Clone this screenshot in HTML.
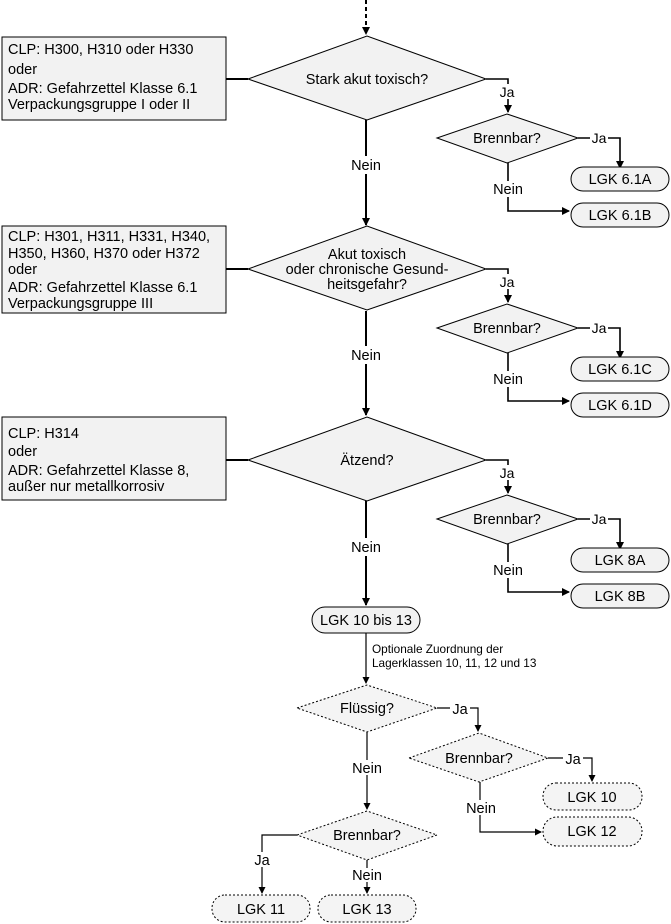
<!DOCTYPE html>
<html><head><meta charset="utf-8"><style>body{margin:0;background:#fff}svg{display:block}text{font-family:"Liberation Sans",Arial,sans-serif;font-size:14.5px;fill:#000}</style></head><body>
<svg width="671" height="924" viewBox="0 0 671 924" xmlns="http://www.w3.org/2000/svg">
<defs>
<marker id="a" markerWidth="8" markerHeight="8" refX="7" refY="4" orient="auto" markerUnits="userSpaceOnUse"><path d="M0,0 L8,4 L0,8 Z" fill="#000"/></marker>
<marker id="b" markerWidth="7" markerHeight="7" refX="6" refY="3.5" orient="auto" markerUnits="userSpaceOnUse"><path d="M0,0 L7,3.5 L0,7 Z" fill="#000"/></marker>
</defs>
<g stroke="#000" fill="none" stroke-width="2">
<line x1="366" y1="0" x2="366" y2="34" stroke-dasharray="4,3" marker-end="url(#a)"/>
</g>
<g id="s1">
<g stroke="#000" stroke-width="1.6" fill="none">
<line x1="226" y1="79" x2="248" y2="79" stroke-width="2"/>
<path d="M486,79 H508 V112" marker-end="url(#a)"/>
<path d="M578,138 H620 V168" marker-end="url(#a)"/>
<path d="M508,163 V211 H569" marker-end="url(#a)"/>
</g>
<polygon points="248,79 367,36 486,79 367,120" fill="#f2f2f2" stroke="#000" stroke-width="1"/>
<polygon points="437,138 507,114 578,138 507,163" fill="#f2f2f2" stroke="#000" stroke-width="1"/>
<rect x="571" y="167" width="98" height="24" rx="12" fill="#f2f2f2" stroke="#000"/>
<rect x="571" y="203" width="98" height="24" rx="12" fill="#f2f2f2" stroke="#000"/>
<rect x="499" y="84" width="18" height="15" fill="#fff"/>
<text x="507" y="97" text-anchor="middle" style="font-size:14px">Ja</text>
<text x="507" y="143" text-anchor="middle">Brennbar?</text>
<rect x="590" y="131" width="18" height="14" fill="#fff"/>
<text x="599" y="143" text-anchor="middle" style="font-size:14px">Ja</text>
<rect x="492" y="181" width="32" height="16" fill="#fff"/>
<text x="508" y="194" text-anchor="middle">Nein</text>
</g>
<g stroke="#000" stroke-width="2" fill="none">
<line x1="366" y1="120" x2="366" y2="225" marker-end="url(#a)"/>
<line x1="366" y1="311" x2="366" y2="415" marker-end="url(#a)"/>
<line x1="366" y1="501" x2="366" y2="605" marker-end="url(#a)"/>
</g>
<use href="#s1" y="190"/>
<use href="#s1" y="381"/>
<rect x="348" y="156" width="36" height="18" fill="#fff"/>
<text x="366" y="170" text-anchor="middle">Nein</text>
<rect x="348" y="346" width="36" height="18" fill="#fff"/>
<text x="366" y="360" text-anchor="middle">Nein</text>
<rect x="348" y="538" width="36" height="18" fill="#fff"/>
<text x="366" y="552" text-anchor="middle">Nein</text>
<rect x="2" y="37" width="224" height="83" fill="#f2f2f2" stroke="#000"/>
<text x="8" y="54">CLP: H300, H310 oder H330</text>
<text x="8" y="74">oder</text>
<text x="8" y="93">ADR: Gefahrzettel Klasse 6.1</text>
<text x="8" y="109">Verpackungsgruppe I oder II</text>
<rect x="2" y="226" width="224" height="87" fill="#f2f2f2" stroke="#000"/>
<text x="8" y="241">CLP: H301, H311, H331, H340,</text>
<text x="8" y="258">H350, H360, H370 oder H372</text>
<text x="8" y="274">oder</text>
<text x="8" y="292">ADR: Gefahrzettel Klasse 6.1</text>
<text x="8" y="308">Verpackungsgruppe III</text>
<rect x="2" y="417" width="224" height="83" fill="#f2f2f2" stroke="#000"/>
<text x="8" y="438">CLP: H314</text>
<text x="8" y="456">oder</text>
<text x="8" y="475">ADR: Gefahrzettel Klasse 8,</text>
<text x="8" y="491">außer nur metallkorrosiv</text>
<text x="367" y="84" text-anchor="middle">Stark akut toxisch?</text>
<text x="367" y="259" text-anchor="middle">Akut toxisch</text>
<text x="367" y="274" text-anchor="middle">oder chronische Gesund-</text>
<text x="367" y="289" text-anchor="middle">heitsgefahr?</text>
<text x="367" y="465" text-anchor="middle">Ätzend?</text>
<g fill="#f2f2f2"><rect x="572" y="168" width="96" height="22" rx="11"/><rect x="572" y="204" width="96" height="22" rx="11"/></g>
<text x="620" y="184" text-anchor="middle">LGK 6.1A</text>
<text x="620" y="220" text-anchor="middle">LGK 6.1B</text>
<rect x="572" y="358" width="96" height="22" rx="11" fill="#f2f2f2"/><rect x="572" y="394" width="96" height="22" rx="11" fill="#f2f2f2"/>
<text x="620" y="374" text-anchor="middle">LGK 6.1C</text>
<text x="620" y="410" text-anchor="middle">LGK 6.1D</text>
<rect x="572" y="549" width="96" height="22" rx="11" fill="#f2f2f2"/><rect x="572" y="585" width="96" height="22" rx="11" fill="#f2f2f2"/>
<text x="620" y="565" text-anchor="middle">LGK 8A</text>
<text x="620" y="601" text-anchor="middle">LGK 8B</text>
<rect x="312" y="607" width="108" height="26" rx="13" fill="#f2f2f2" stroke="#000"/>
<text x="366" y="625" text-anchor="middle">LGK 10 bis 13</text>
<line x1="366" y1="633" x2="366" y2="683" stroke="#000" stroke-width="1.2" marker-end="url(#b)"/>
<text x="372" y="653" style="font-size:11.8px">Optionale Zuordnung der</text>
<text x="372" y="667" style="font-size:11.8px">Lagerklassen 10, 11, 12 und 13</text>
<g stroke="#000" stroke-width="1.2" fill="none">
<path d="M437,708 H478 V731" marker-end="url(#b)"/>
<path d="M548,758 H592 V781" marker-end="url(#b)"/>
<path d="M480,782 V832 H541" marker-end="url(#b)"/>
<line x1="367" y1="732" x2="367" y2="809" marker-end="url(#b)"/>
<path d="M297,835 H262 V893" marker-end="url(#b)"/>
<line x1="367" y1="860" x2="367" y2="893" marker-end="url(#b)"/>
</g>
<g fill="#f4f4f4" stroke="#000" stroke-width="1" stroke-dasharray="2,2">
<polygon points="297,708 367,685 437,708 367,732"/>
<polygon points="409,758 479,733 548,758 479,782"/>
<polygon points="297,835 367,811 437,835 367,860"/>
<rect x="543" y="783" width="99" height="27" rx="13"/>
<rect x="543" y="817" width="99" height="29" rx="14"/>
<rect x="212" y="895" width="98" height="27" rx="13"/>
<rect x="318" y="895" width="98" height="27" rx="13"/>
</g>
<text x="367" y="713" text-anchor="middle">Flüssig?</text>
<text x="479" y="763" text-anchor="middle">Brennbar?</text>
<text x="367" y="840" text-anchor="middle">Brennbar?</text>
<text x="592" y="802" text-anchor="middle">LGK 10</text>
<text x="592" y="836" text-anchor="middle">LGK 12</text>
<text x="261" y="914" text-anchor="middle">LGK 11</text>
<text x="367" y="914" text-anchor="middle">LGK 13</text>
<g fill="#fff"><rect x="450" y="702" width="20" height="15"/><rect x="563" y="752" width="20" height="15"/><rect x="350" y="760" width="34" height="15"/><rect x="464" y="800" width="34" height="15"/><rect x="252" y="852" width="20" height="15"/><rect x="350" y="868" width="34" height="14"/></g>
<text x="460" y="714" text-anchor="middle">Ja</text>
<text x="573" y="764" text-anchor="middle">Ja</text>
<text x="367" y="773" text-anchor="middle">Nein</text>
<text x="481" y="813" text-anchor="middle">Nein</text>
<text x="262" y="865" text-anchor="middle">Ja</text>
<text x="367" y="880" text-anchor="middle">Nein</text>
</svg>
</body></html>
